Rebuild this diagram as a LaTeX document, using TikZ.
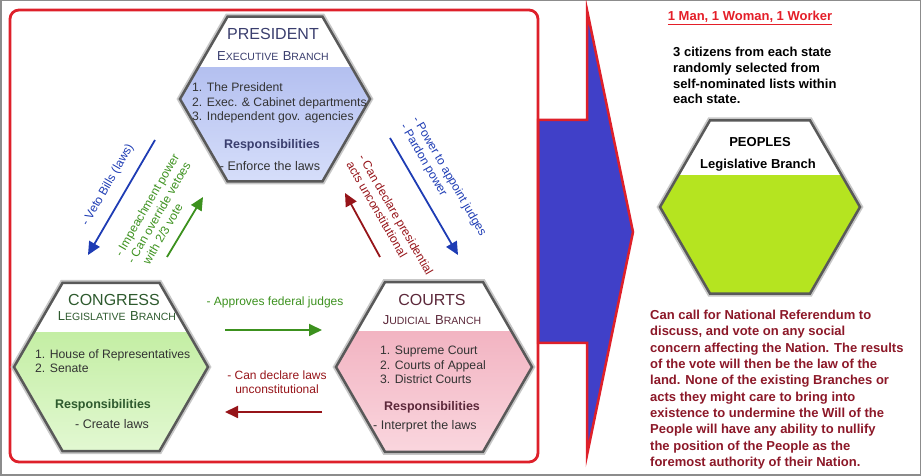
\documentclass[tikz,border=0pt]{standalone}
\usepackage{fontspec}
\setmainfont{Liberation Sans}
\usetikzlibrary{arrows.meta,positioning,shapes.geometric}

\definecolor{frameRed}{RGB}{222,32,42}
\definecolor{bigBlue}{RGB}{64,64,200}
\definecolor{presBlue}{RGB}{180,192,240}
\definecolor{presLight}{RGB}{214,222,250}
\definecolor{presText}{RGB}{58,62,110}
\definecolor{congGreen}{RGB}{196,238,164}
\definecolor{congLight}{RGB}{226,248,210}
\definecolor{congText}{RGB}{46,90,46}
\definecolor{courtPink}{RGB}{242,180,194}
\definecolor{courtLight}{RGB}{250,214,222}
\definecolor{courtText}{RGB}{92,40,58}
\definecolor{peopleLime}{RGB}{181,228,32}
\definecolor{arrowBlue}{RGB}{30,60,180}
\definecolor{arrowGreen}{RGB}{60,145,30}
\definecolor{arrowRed}{RGB}{150,20,25}
\definecolor{noteRed}{RGB}{140,24,40}
\definecolor{mottoRed}{RGB}{228,30,40}

\newcommand{\fakesc}[2]{{\fontsize{13}{15}\selectfont #1}{\fontsize{10.5}{15}\selectfont #2}}

\begin{document}
\begin{tikzpicture}[
        x=1pt, y=1pt,
        hexnode/.style={
            regular polygon,
            regular polygon sides=6,
            minimum size=#1,
            inner sep=0pt,
            draw=black!65,
            line width=2.5pt,
            preaction={draw=black!22, line width=6pt}
        },
        twotone/.style n args={3}{
            path picture={
                \fill[white] (path picture bounding box.south west) rectangle (path picture bounding box.north east);
                \shade[top color=#1, bottom color=#2] (path picture bounding box.south west) rectangle ([yshift=#3]path picture bounding box.east);
            }
        },
        hextitle/.style={font=\fontsize{16}{18}\selectfont, inner sep=0pt},
        hexitems/.style={font=\fontsize{12.2}{14.5}\selectfont, align=left, anchor=west, inner sep=0pt, text=black!80},
        hexresp/.style={font=\bfseries\fontsize{12.5}{14}\selectfont, inner sep=0pt},
        hexduty/.style={font=\fontsize{12.5}{14}\selectfont, inner sep=0pt, text=black!80},
        checkarrow/.style={-{Triangle[length=13pt,width=12pt]}, line width=1.8pt},
        checklabel/.style={font=\fontsize{12}{14}\selectfont, inner sep=0pt, align=left},
        note/.style={font=\bfseries\fontsize{13}{15.7}\selectfont, inner sep=0pt, align=left, anchor=north west}
    ]
    \useasboundingbox (0,0) rectangle (921,476);
    \draw[black!45, line width=1.5pt] (0.75,0.75) rectangle (920.25,475.25);

    % big arrow towards the people
    \draw[fill=bigBlue, draw=frameRed, line width=2.5pt] (538,356) -- (587,356) -- (587,466) -- (633,244)
        -- (587,21) -- (587,133) -- (538,133) -- cycle;
    \draw[frameRed, line width=2.8pt, rounded corners=9pt] (10,14) rectangle (538,466);

    % the three branches
    \node[hexnode=190pt, twotone={presBlue}{presLight}{31pt}] (pres) at (275,377) {};
    \node[hexnode=194pt, twotone={congGreen}{congLight}{34pt}] (cong) at (111,109) {};
    \node[hexnode=196pt, twotone={courtPink}{courtLight}{35pt}] (court) at (434,109) {};

    \node[hextitle, text=presText] (presname) at ([shift={(-2,65)}]pres.center) {PRESIDENT};
    \node[hextitle, text=presText] (presbranch) at ([shift={(-2,43)}]pres.center) {\fakesc{E}{XECUTIVE} \fakesc{B}{RANCH}};
    \node[hexitems] (presitems) at ([shift={(-83,-4)}]pres.center) {1. The President\\2. Exec. \& Cabinet departments\\3. Independent gov. agencies};
    \node[hexresp, text=presText] (presresp) at ([shift={(-3,-46)}]pres.center) {Responsibilities};
    \node[hexduty] (presduty) at ([shift={(-5,-67)}]pres.center) {- Enforce the laws};

    \node[hextitle, text=congText] (congname) at ([shift={(3,67)}]cong.center) {CONGRESS};
    \node[hextitle, text=congText] (congbranch) at ([shift={(6,51)}]cong.center) {\fakesc{L}{EGISLATIVE} \fakesc{B}{RANCH}};
    \node[hexitems] (congitems) at ([shift={(-76,6)}]cong.center) {1. House of Representatives\\2. Senate};
    \node[hexresp, text=congText] (congresp) at ([shift={(-8,-38)}]cong.center) {Responsibilities};
    \node[hexduty] (congduty) at ([shift={(1,-57)}]cong.center) {- Create laws};

    \node[hextitle, text=courtText] (courtname) at ([shift={(-2,67)}]court.center) {COURTS};
    \node[hextitle, text=courtText] (courtbranch) at ([shift={(-2,47)}]court.center) {\fakesc{J}{UDICIAL} \fakesc{B}{RANCH}};
    \node[hexitems] (courtitems) at ([shift={(-54,2)}]court.center) {1. Supreme Court\\2. Courts of Appeal\\3. District Courts};
    \node[hexresp, text=courtText] (courtresp) at ([shift={(-2,-40)}]court.center) {Responsibilities};
    \node[hexduty] (courtduty) at ([shift={(-9,-59)}]court.center) {- Interpret the laws};

    % checks and balances
    \coordinate (vetoS) at (155,336);
    \coordinate (vetoE) at (88,221);
    \coordinate (impS) at (167,219);
    \coordinate (impE) at (203,279);
    \coordinate (powS) at (390,338);
    \coordinate (powE) at (458,221);
    \coordinate (actS) at (380,219);
    \coordinate (actE) at (345,283);
    \coordinate (apprS) at (225,146);
    \coordinate (apprE) at (322,146);
    \coordinate (lawS) at (322,64);
    \coordinate (lawE) at (225,64);

    \draw[checkarrow, arrowBlue] (vetoS) -- (vetoE);
    \draw[checkarrow, arrowGreen] (impS) -- (impE);
    \draw[checkarrow, arrowBlue] (powS) -- (powE);
    \draw[checkarrow, arrowRed] (actS) -- (actE);
    \draw[checkarrow, arrowGreen] (apprS) -- (apprE);
    \draw[checkarrow, arrowRed] (lawS) -- (lawE);

    \node[checklabel, text=arrowBlue, rotate=60] (vetolabel) at (108,291) {- Veto Bills (laws)};
    \node[checklabel, text=arrowGreen, rotate=60] (implabel) at (159,264) {- Impeachment power\\- Can override vetoes\\\hphantom{- }with 2/3 vote};
    \node[checklabel, text=arrowBlue, rotate=-60] (powlabel) at (443,296) {- Power to appoint judges\\- Pardon power};
    \node[checklabel, text=arrowRed, rotate=-60] (actlabel) at (390,258) {- Can declare presidential\\acts unconstitutional};
    \node[checklabel, text=arrowGreen] (apprlabel) at (275,174) {- Approves federal judges};
    \node[checklabel, text=arrowRed, align=center] (lawlabel) at (277,94) {- Can declare laws\\unconstitutional};

    % the people
    \node[font=\bfseries\fontsize{13}{15}\selectfont, text=mottoRed, inner sep=0pt] (motto) at (750,458) {\underline{1 Man, 1 Woman, 1 Worker}};
    \node[note] (citizens) at (673,429) {3 citizens from each state\\randomly selected from\\self-nominated lists within\\each state.};
    \node[hexnode=200pt, twotone={peopleLime}{peopleLime}{31pt}] (people) at (760,269) {};
    \node[font=\bfseries\fontsize{13}{15}\selectfont, inner sep=0pt] (peoplename) at ([yshift=65pt]people.center) {PEOPLES};
    \node[font=\bfseries\fontsize{13}{15}\selectfont, inner sep=0pt] (peoplebranch) at ([shift={(-2,42)}]people.center) {Legislative Branch};
    \node[note, font=\bfseries\fontsize{13}{16.3}\selectfont, text=noteRed] (referendum) at (650,166) {Can call for National Referendum to\\discuss, and vote on any social\\concern affecting the Nation. The results\\of the vote will then be the law of the\\land. None of the existing Branches or\\acts they might care to bring into\\existence to undermine the Will of the\\People will have any ability to nullify\\the position of the People as the\\foremost authority of their Nation.};
\end{tikzpicture}
\end{document}
